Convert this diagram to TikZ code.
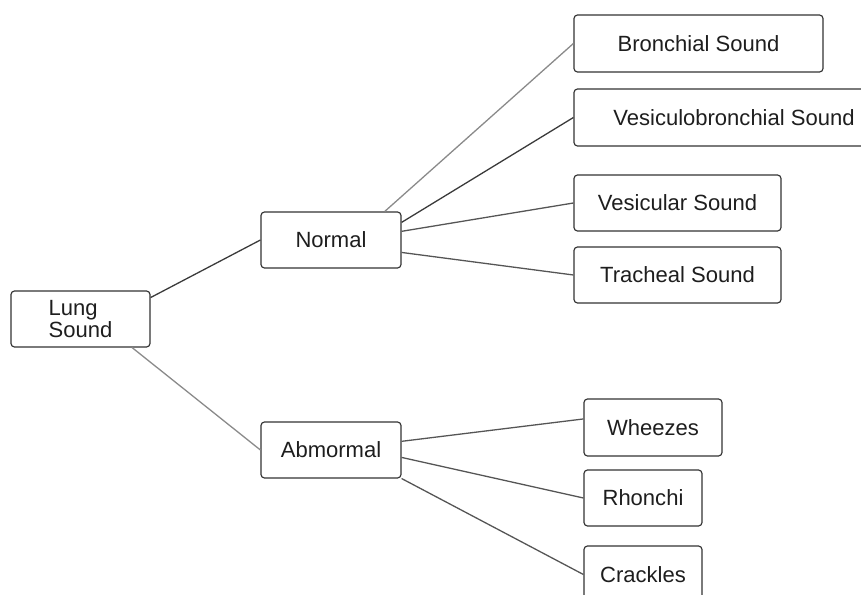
\documentclass[tikz,border=0pt]{standalone}
\usepackage{xcolor}
\usepackage{fontspec}
\setmainfont{Liberation Sans}
\definecolor{boxline}{HTML}{333333}
\definecolor{boxtext}{HTML}{1E1E1E}
\definecolor{darkline}{HTML}{3A3A3A}
\definecolor{midline}{HTML}{555555}
\definecolor{lightline}{HTML}{8A8A8A}

\begin{document}
\begin{tikzpicture}[x=0.03cm, y=-0.03cm,
		box/.style={draw=boxline, line width=1pt, rounded corners=3pt, fill=white,
			inner sep=0pt, text=boxtext, font=\fontsize{18.8}{18.5}\selectfont},
		link/.style={line width=1.1pt, midline}]
\clip (0,0) rectangle (861,595);
\fill[white] (0,0) rectangle (861,595);

% root and the two groups
\node[box, minimum width=4.17cm, minimum height=1.68cm, align=left] (lung) at (80.5,319) {Lung\\Sound};
\node[box, minimum width=4.2cm, minimum height=1.68cm] (normal) at (331,240) {Normal};
\node[box, minimum width=4.2cm, minimum height=1.68cm] (abnormal) at (331,450) {Abmormal};

% normal sounds
\node[box, minimum width=7.47cm, minimum height=1.71cm] (bronchial) at (698.5,43.5) {Bronchial Sound};
\node[box, minimum width=9.6cm, minimum height=1.71cm] (vesbron) at (734,117.5) {Vesiculobronchial Sound};
\node[box, minimum width=6.21cm, minimum height=1.68cm] (vesicular) at (677.5,203) {Vesicular Sound};
\node[box, minimum width=6.21cm, minimum height=1.68cm] (tracheal) at (677.5,275) {Tracheal Sound};

% abnormal sounds
\node[box, minimum width=4.14cm, minimum height=1.71cm] (wheezes) at (653,427.5) {Wheezes};
\node[box, minimum width=3.54cm, minimum height=1.68cm] (rhonchi) at (643,498) {Rhonchi};
\node[box, minimum width=3.54cm, minimum height=1.71cm] (crackles) at (643,574.5) {Crackles};

\draw[link, darkline] (lung.17.6) -- (normal.west);
\draw[link, lightline] (lung.-29.5) -- (abnormal.west);

\draw[link, lightline] (normal.28.3) -- (bronchial.west);
\draw[link, darkline] (normal.14.6) -- (vesbron.west);
\draw[link] (normal.7.4) -- (vesicular.west);
\draw[link] (normal.-10.7) -- (tracheal.west);

\draw[link] (abnormal.7.2) -- (wheezes.173);
\draw[link] (abnormal.-6.4) -- (rhonchi.west);
\draw[link] (abnormal.-22.7) -- (crackles.west);

\end{tikzpicture}
\end{document}
